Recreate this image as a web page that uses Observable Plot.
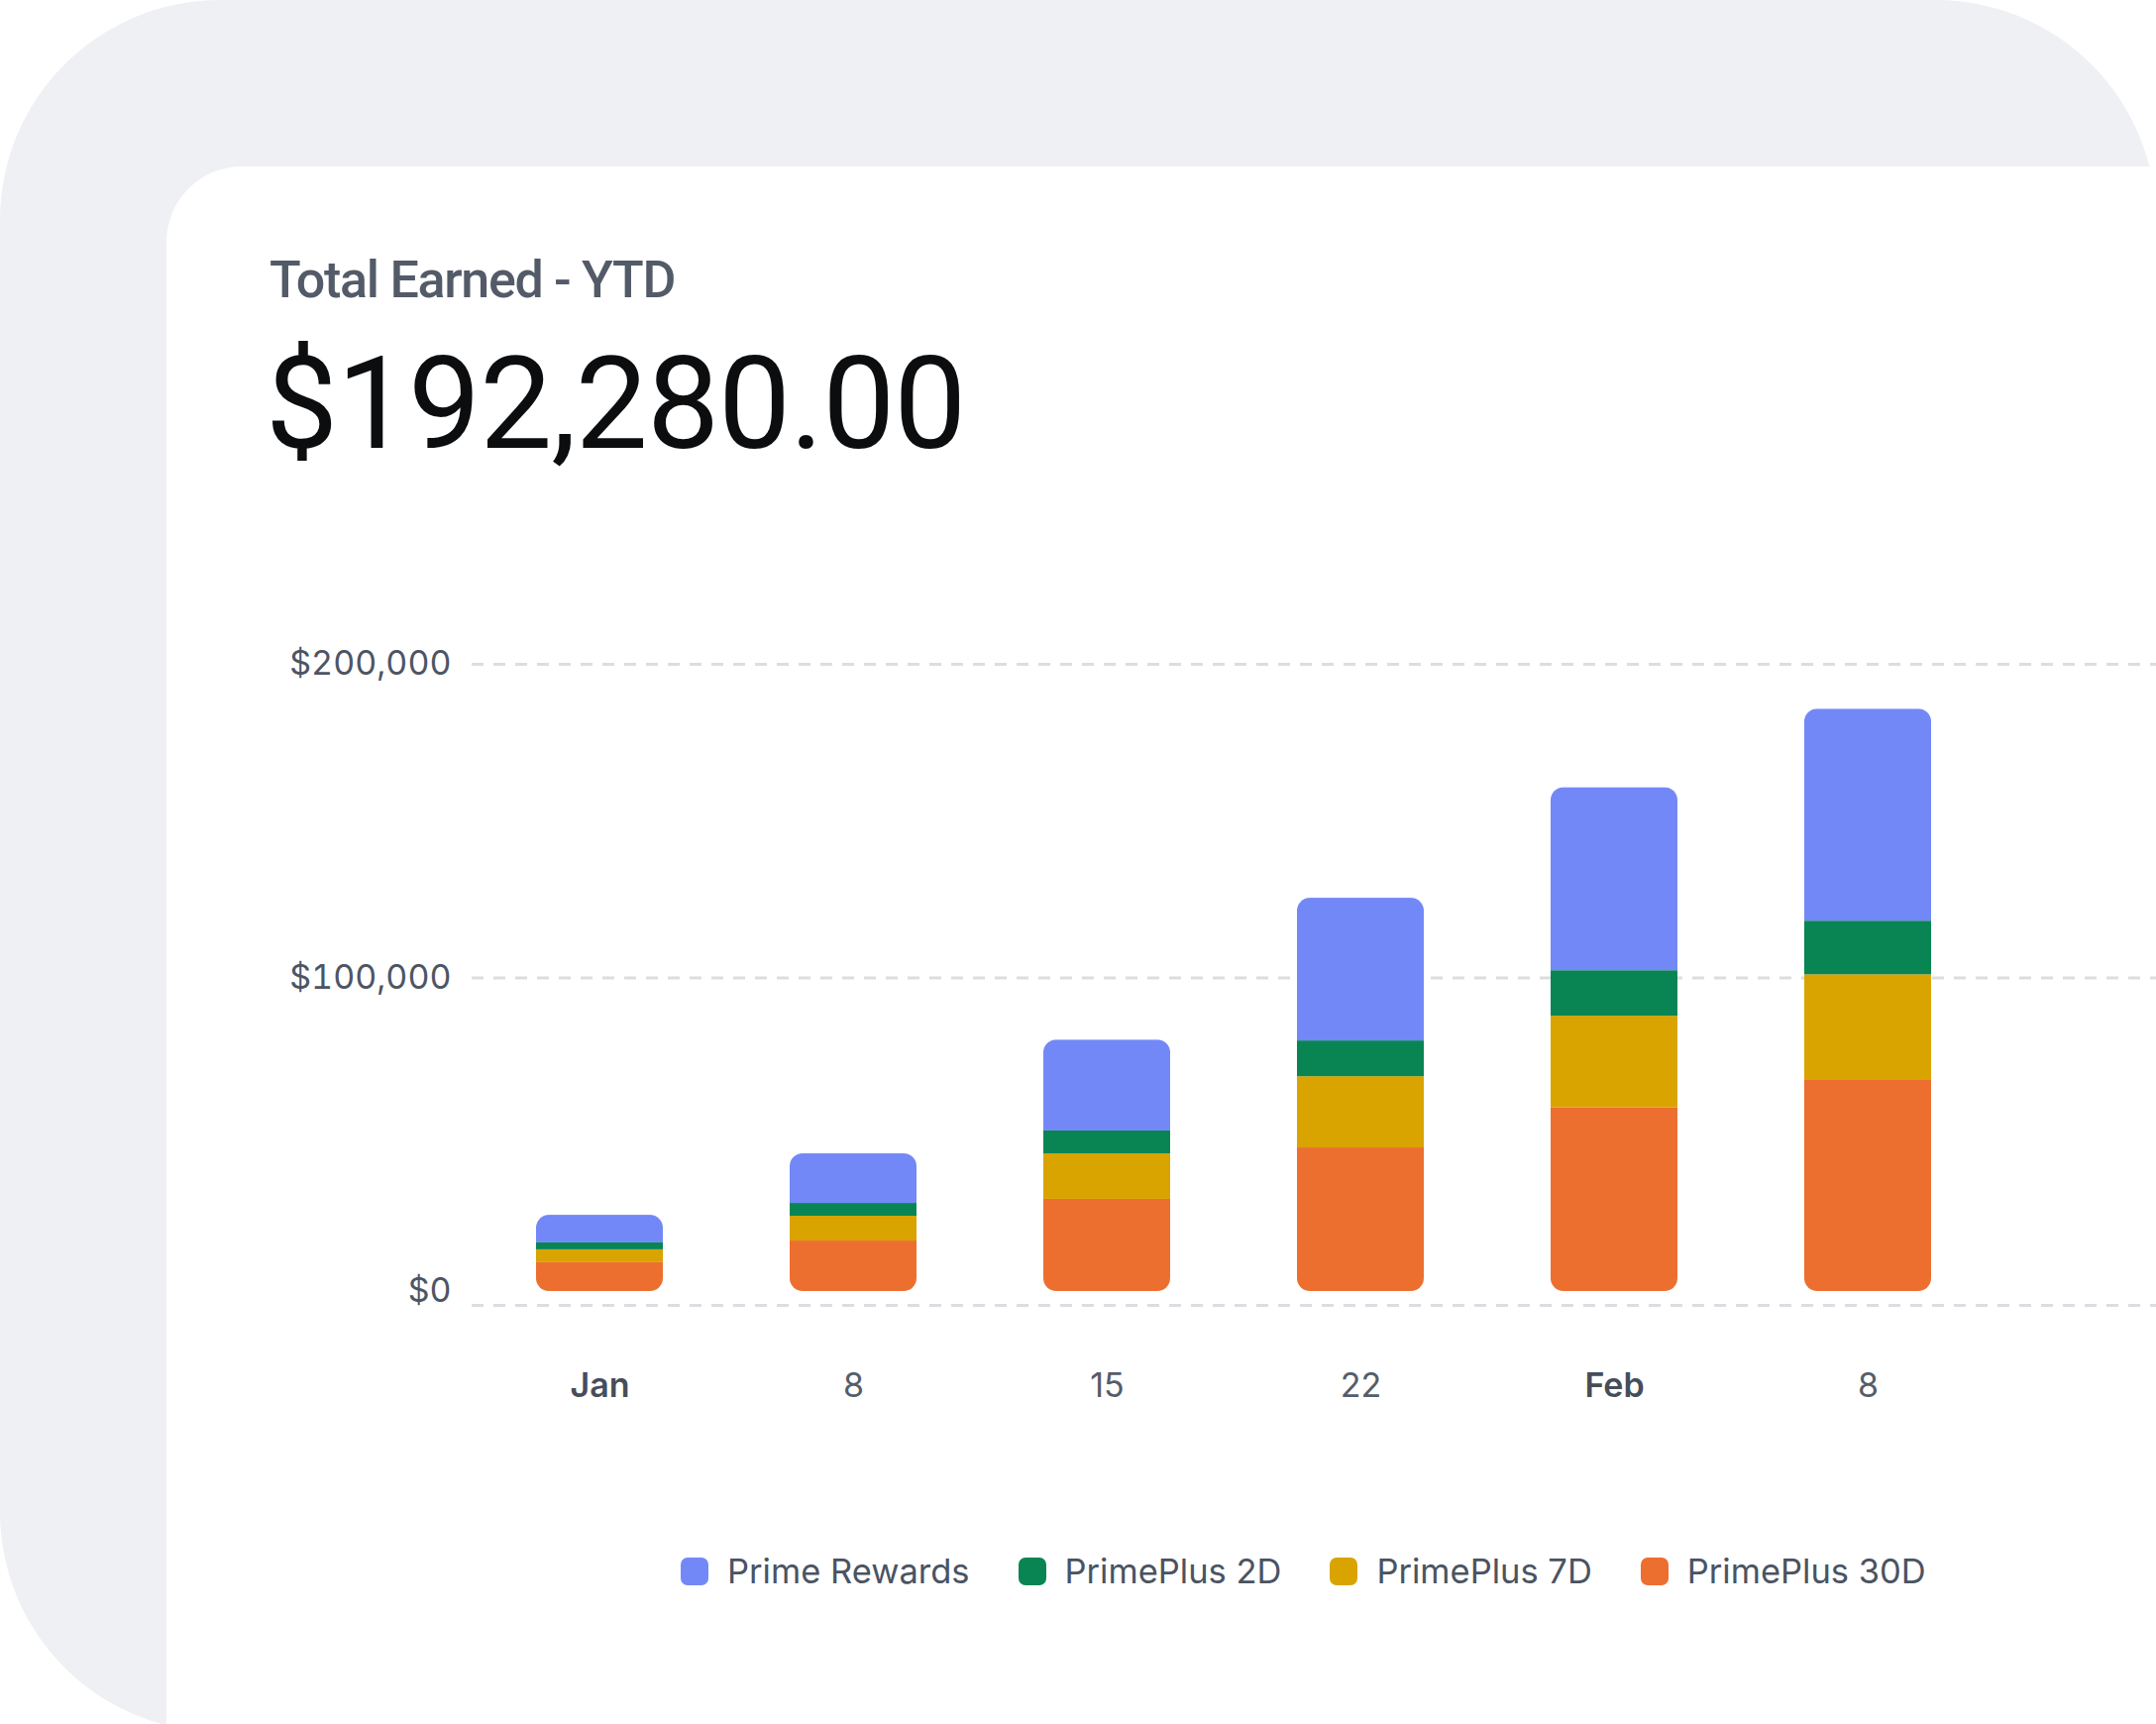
<!DOCTYPE html>
<html>
<head>
<meta charset="utf-8">
<script src="https://cdn.jsdelivr.net/npm/d3@7"></script>
<script src="https://cdn.jsdelivr.net/npm/@observablehq/plot@0.6"></script>
<style>
  html, body { margin: 0; padding: 0; background: #ffffff; }
  #page { position: relative; width: 2176px; height: 1740px; overflow: hidden; background: #ffffff; }
  #bg { position: absolute; left: 0; top: 0; width: 2176px; height: 1748px; border-radius: 222px; background: #eff0f3; }
  #card { position: absolute; left: 168px; top: 168px; width: 2300px; height: 1800px; border-top-left-radius: 76px; background: #ffffff; }
  #title { position: absolute; left: 272px; top: 257px; font-family: Roboto, sans-serif; font-weight: 500; font-size: 52px; line-height: 52px; letter-spacing: -1.3px; color: #535b68; white-space: nowrap; }
  #total { position: absolute; left: 268px; top: 343px; font-family: Roboto, sans-serif; font-weight: 400; font-size: 130px; line-height: 130px; letter-spacing: -1.0px; color: #0c0d0f; white-space: nowrap; }
  #chart { position: absolute; left: 0; top: 620px; }
  #legend { position: absolute; left: 687px; top: 1568px; display: flex; align-items: center; font-family: Inter, sans-serif; font-size: 34.5px; line-height: 35px; color: #4b5361; white-space: nowrap; }
  .item { display: flex; align-items: center; margin-right: 49px; }
  .sw { width: 28px; height: 28px; border-radius: 7px; margin-right: 19px; }
</style>
</head>
<body>
<div id="page">
  <div id="bg"></div>
  <div id="card"></div>
  <div id="title"></div>
  <div id="total"></div>
  <div id="chart"></div>
  <div id="legend"></div>
</div>
<script>
// ---- Data ----
const titleText = "Total Earned - YTD";
const totalText = "$192,280.00";
const weeks = ["Jan 1", "Jan 8", "Jan 15", "Jan 22", "Feb 1", "Feb 8"];
const weekLabels = ["Jan", "8", "15", "22", "Feb", "8"];
const monthWeeks = ["Jan 1", "Feb 1"];
const seriesNames = ["Prime Rewards", "PrimePlus 2D", "PrimePlus 7D", "PrimePlus 30D"];
const seriesColors = ["#7388f7", "#088553", "#d9a300", "#ed6f2f"];
const primeRewards = [8800, 15800, 29000, 45500, 58400, 67600];
const primePlus2D  = [2200, 4100, 7300, 11400, 14500, 17100];
const primePlus7D  = [4100, 7900, 14500, 22700, 29200, 33700];
const primePlus30D = [9200, 16100, 29400, 45800, 58600, 67300];
const yTicks = [0, 100000, 200000];

// stacking order, bottom to top
const stackOrder = [
  ["PrimePlus 30D", primePlus30D],
  ["PrimePlus 7D", primePlus7D],
  ["PrimePlus 2D", primePlus2D],
  ["Prime Rewards", primeRewards]
];
const rows = [];
weeks.forEach((w, i) => {
  stackOrder.forEach(([name, vals]) => rows.push({week: w, series: name, value: vals[i]}));
});
const labelOf = new Map(weeks.map((w, i) => [w, weekLabels[i]]));
const otherWeeks = weeks.filter(w => !monthWeeks.includes(w));

document.getElementById("title").textContent = titleText;
document.getElementById("total").textContent = totalText;

const gridStyle = {stroke: "#dcdde2", strokeOpacity: 1, strokeWidth: 3, strokeDasharray: "12,10"};

const chart = Plot.plot({
  width: 2176,
  height: 840,
  marginLeft: 476,
  marginRight: 0,
  marginTop: 50,
  marginBottom: 157,
  style: {fontFamily: "Inter, sans-serif", fontSize: "34px", color: "#4d5564", background: "transparent", overflow: "visible"},
  x: {domain: weeks, range: [413, 2077], padding: 0.5, label: null},
  y: {domain: [0, 200000], label: null},
  color: {domain: seriesNames, range: seriesColors},
  marks: [
    Plot.ruleY(yTicks.filter(t => t !== 0), gridStyle),
    Plot.ruleY([0], {...gridStyle, dy: 14}),
    Plot.barY(rows, {x: "week", y: "value", fill: "series"}),
    Plot.axisY({ticks: yTicks, tickSize: 0, tickPadding: 21, tickFormat: d => "$" + d3.format(",")(d), label: null, fill: "#4d5564"}),
    Plot.axisX({ticks: monthWeeks, tickSize: 0, tickPadding: 82, tickFormat: w => labelOf.get(w), label: null, fontWeight: 600, fill: "#464d5a"}),
    Plot.axisX({ticks: otherWeeks, tickSize: 0, tickPadding: 82, tickFormat: w => labelOf.get(w), label: null, fill: "#555d6a"})
  ]
});
document.getElementById("chart").appendChild(chart);

// Rounded ends for each stacked bar, using the plot's own scales
const xs = chart.scale("x"), ys = chart.scale("y");
const svg = d3.select(chart);
const defs = svg.insert("defs", ":first-child");
const totals = weeks.map((w, i) => d3.sum(stackOrder, ([, vals]) => vals[i]));
const xPos = weeks.map(w => xs.apply(w));
weeks.forEach((w, i) => {
  defs.append("clipPath").attr("id", "barclip" + i)
    .append("rect")
    .attr("x", xPos[i]).attr("width", xs.bandwidth)
    .attr("y", ys.apply(totals[i])).attr("height", ys.apply(0) - ys.apply(totals[i]))
    .attr("rx", 13).attr("ry", 13);
});
svg.selectAll('g[aria-label="bar"] rect').each(function() {
  const x = +this.getAttribute("x");
  let best = 0, bd = Infinity;
  xPos.forEach((p, i) => { const dd = Math.abs(p - x); if (dd < bd) { bd = dd; best = i; } });
  this.setAttribute("clip-path", "url(#barclip" + best + ")");
});

// Legend built from the same color scale
const color = chart.scale("color");
const legend = d3.select("#legend");
seriesNames.forEach(name => {
  const it = legend.append("div").attr("class", "item");
  it.append("div").attr("class", "sw").style("background", color.apply(name));
  it.append("span").text(name);
});
</script>
</body>
</html>
